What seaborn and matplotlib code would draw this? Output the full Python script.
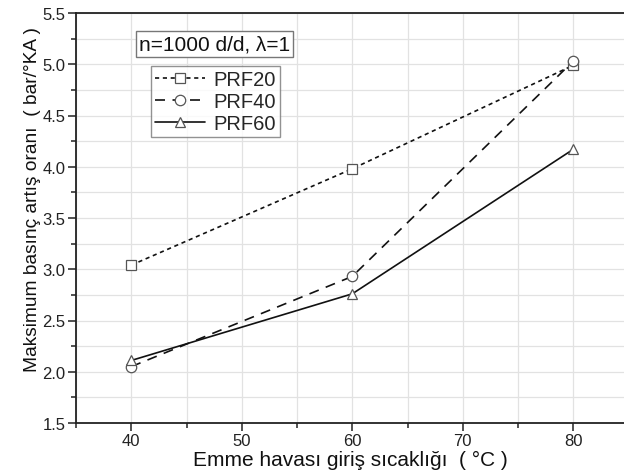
import matplotlib
matplotlib.use("Agg")
import matplotlib.pyplot as plt
import seaborn as sns
import pandas as pd
from matplotlib.ticker import MultipleLocator

temps = [40, 60, 80]
series = ["PRF20", "PRF40", "PRF60"]
prf20 = [3.04, 3.98, 4.99]
prf40 = [2.05, 2.93, 5.03]
prf60 = [2.11, 2.76, 4.17]

rows = []
for name, vals in zip(series, [prf20, prf40, prf60]):
    for t, v in zip(temps, vals):
        rows.append({"T": t, "val": v, "seri": name})
df = pd.DataFrame(rows)

sns.set_theme(style="whitegrid")
plt.rcParams["font.family"] = ["Liberation Sans", "DejaVu Sans"]

fig = plt.figure(figsize=(6.24, 4.77), dpi=100)
ax = fig.add_axes([76/624, 53/477, 548/624, 410/477])

sns.lineplot(data=df, x="T", y="val", hue="seri", style="seri",
             palette={s: "#111111" for s in series},
             dashes={"PRF20": (2.5, 2.2), "PRF40": (6, 4.5), "PRF60": ""},
             markers={"PRF20": "s", "PRF40": "o", "PRF60": "^"},
             markersize=7.5, markerfacecolor="white",
             markeredgecolor="#555555", markeredgewidth=0.9,
             linewidth=1.2, legend=False, ax=ax)

for ln in ax.get_lines():
    ln.set_markerfacecolor("white")
    ln.set_markeredgecolor("#555555")

ax.set_xlim(35, 35 + 548/11.05)
ax.set_ylim(1.5, 5.5)
ax.xaxis.set_major_locator(MultipleLocator(10))
ax.xaxis.set_minor_locator(MultipleLocator(5))
ax.yaxis.set_major_locator(MultipleLocator(0.5))
ax.yaxis.set_minor_locator(MultipleLocator(0.25))
ax.yaxis.set_major_formatter(matplotlib.ticker.FormatStrFormatter("%.1f"))

ax.grid(True, which="both", color="#e2e2e2", linewidth=0.9)
ax.set_axisbelow(True)
ax.tick_params(which="major", direction="out", length=6, width=1.1, color="#222222",
               labelsize=12, labelcolor="#222222", pad=1.5, bottom=True, left=True)
ax.tick_params(which="minor", direction="out", length=3.5, width=1.1, color="#222222",
               bottom=True, left=True)
for side in ["left", "bottom", "top"]:
    ax.spines[side].set_color("#222222")
    ax.spines[side].set_linewidth(1.3)
ax.spines["right"].set_visible(False)

ax.set_xlabel("Emme havası giriş sıcaklığı  ( °C )", fontsize=15, labelpad=1, color="#111111")
ax.set_ylabel("Maksimum basınç artış oranı  ( bar/°KA )", fontsize=13.8, color="#111111")
ax.yaxis.set_label_coords(-(76 - 41)/548, (424 - 199)/410)

ax.text((139 - 76)/548, (424 - 45)/410, "n=1000 d/d, λ=1", transform=ax.transAxes,
        fontsize=15, va="center", ha="left", color="#111111",
        bbox=dict(boxstyle="square,pad=0.15", facecolor="white", edgecolor="#777777", linewidth=1))

leg = ax.legend(handles=ax.get_lines()[:3], labels=series, loc="upper left",
                bbox_to_anchor=((151 - 76)/548, (424 - 67)/410),
                bbox_transform=ax.transAxes,
                fontsize=14.5, frameon=True, fancybox=False, handlelength=2.5,
                handletextpad=0.4, borderpad=0.2, labelspacing=0.15,
                borderaxespad=0)
leg.get_frame().set_edgecolor("#777777")
leg.get_frame().set_linewidth(1)

fig.savefig("out.png", dpi=100)
